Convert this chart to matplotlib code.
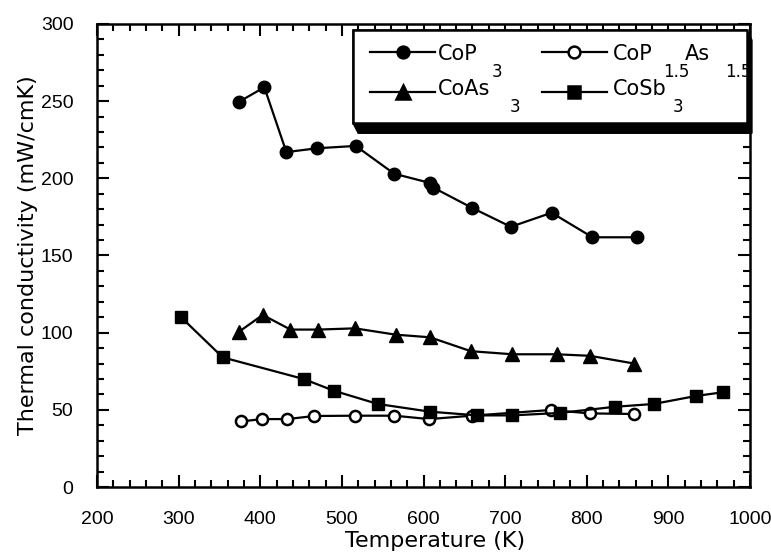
import matplotlib
matplotlib.use('Agg')
import matplotlib.pyplot as plt
from matplotlib.patches import Polygon, Rectangle
from matplotlib.lines import Line2D
from matplotlib.ticker import MultipleLocator

# Thermal conductivity data
cop3_T = [374, 405, 432, 470, 517, 564, 608, 612, 659, 707, 757, 807, 862]
cop3_k = [249.6, 259, 217, 219.5, 221, 203, 197, 194, 181, 168.6, 177.7, 161.8, 161.8]

cop15_T = [377, 402, 433, 466, 516, 564, 607, 659, 756, 804, 858]
cop15_k = [42.5, 44, 44, 46, 46.2, 46.2, 44, 46.2, 49.9, 47.7, 47.3]

coas3_T = [374, 403, 437, 471, 516, 566, 608, 658, 709, 763, 804, 858]
coas3_k = [100.6, 111.5, 102, 102, 102.8, 98.7, 97, 88, 86, 86, 85, 80]

cosb3_T = [303, 354, 453, 490, 544, 608, 666, 709, 767, 835, 882, 934, 967]
cosb3_k = [110, 84, 70, 62.4, 53.8, 48.8, 46.4, 46.4, 48, 52, 53.8, 59, 61.4]

plt.rcParams['font.family'] = ['DejaVu Sans']

fig = plt.figure(figsize=(7.71, 5.56), dpi=100)
ax = fig.add_axes([97 / 771, 1 - 487 / 556, 653 / 771, 463 / 556])

lw = 1.6
ax.plot(cop3_T, cop3_k, '-o', color='k', lw=lw, ms=9, zorder=3)
ax.plot(cop15_T, cop15_k, '-o', color='k', mfc='white', mew=1.8, lw=lw, ms=8, zorder=3)
ax.plot(coas3_T, coas3_k, '-^', color='k', lw=lw, ms=9.5, zorder=3)
ax.plot(cosb3_T, cosb3_k, '-s', color='k', lw=lw, ms=9, zorder=4)

ax.set_xlim(200, 1000)
ax.set_ylim(0, 300)
ax.xaxis.set_major_locator(MultipleLocator(100))
ax.xaxis.set_minor_locator(MultipleLocator(20))
ax.yaxis.set_major_locator(MultipleLocator(50))
ax.yaxis.set_minor_locator(MultipleLocator(10))
ax.tick_params(which='both', direction='in', top=True, right=True, width=1.5)
ax.tick_params(which='major', length=8.5, pad=17, labelsize=14,
               labelfontfamily='Liberation Sans')
ax.tick_params(which='minor', length=5)
for s in ax.spines.values():
    s.set_linewidth(1.8)

ax.set_xlabel('Temperature (K)', fontsize=16, labelpad=2)
ax.xaxis.set_label_coords(0.517, -0.095)
ax.set_ylabel('Thermal conductivity (mW/cmK)', fontsize=16, labelpad=2)

# legend box with a solid drop shadow
x0, x1, y0, y1 = 0.392, 0.995, 0.786, 0.987
dx, dy = 0.008, 0.022
ax.add_patch(Polygon([(x0, y1), (x1, y1), (x1 + dx, y1 - dy), (x1 + dx, y0 - dy),
                      (x0 + dx, y0 - dy), (x0, y0)], closed=True, transform=ax.transAxes,
                     facecolor='k', edgecolor='k', zorder=5, clip_on=False))
ax.add_patch(Rectangle((x0, y0), x1 - x0, y1 - y0, transform=ax.transAxes,
                       facecolor='white', edgecolor='k', lw=1.8, zorder=6, clip_on=False))

# handle x, handle y, baseline, marker, face, [(text, x, is_subscript)]
entries = [
    (0.418, 0.940, 0.922, 'o', 'k', [('CoP', 0.522, 0), ('3', 0.604, 1)]),
    (0.681, 0.940, 0.922, 'o', 'white',
     [('CoP', 0.790, 0), ('1.5', 0.867, 1), ('As', 0.900, 0), ('1.5', 0.962, 1)]),
    (0.418, 0.854, 0.847, '^', 'k', [('CoAs', 0.522, 0), ('3', 0.632, 1)]),
    (0.681, 0.854, 0.847, 's', 'k', [('CoSb', 0.790, 0), ('3', 0.882, 1)]),
]
for hx, hy, base, mk, mfc, parts in entries:
    ax.add_line(Line2D([hx, hx + 0.1], [hy, hy], transform=ax.transAxes, color='k', lw=lw,
                       zorder=7))
    ax.add_line(Line2D([hx + 0.05], [hy], transform=ax.transAxes, marker=mk, color='k',
                       mfc=mfc, mew=1.8, ms=8.5 if mk != '^' else 9.5, zorder=7))
    for txt, tx, sub in parts:
        if sub:
            ax.text(tx, base - 0.036, txt, transform=ax.transAxes, fontsize=12,
                    va='baseline', zorder=7)
        else:
            ax.text(tx, base, txt, transform=ax.transAxes, fontsize=15,
                    va='baseline', zorder=7)

fig.savefig('out.png', dpi=100)
